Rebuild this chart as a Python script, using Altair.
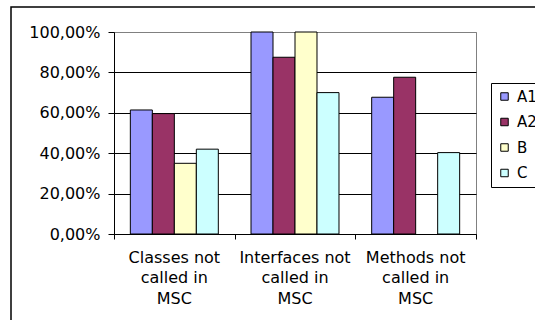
import altair as alt
import pandas as pd

categories = ["Classes not called in MSC", "Interfaces not called in MSC", "Methods not called in MSC"]
series = ["A1", "A2", "B", "C"]
a1 = [0.614, 1.0, 0.677]
a2 = [0.596, 0.875, 0.776]
b = [0.35, 1.0, None]
c = [0.42, 0.70, 0.403]
colors = ["#9999FF", "#993366", "#FFFFCC", "#CCFFFF"]
y_ticks = [0, 0.2, 0.4, 0.6, 0.8, 1.0]

rows = []
for s, vals in zip(series, [a1, a2, b, c]):
    for cat, v in zip(categories, vals):
        if v is not None:
            rows.append({"category": cat, "series": s, "value": v})
df = pd.DataFrame(rows)
cat_df = pd.DataFrame({"category": categories})

FONT = "DejaVu Sans"
FS = 16

x_scale = alt.Scale(paddingInner=0, paddingOuter=0)

bars = alt.Chart(df).mark_bar(stroke="black", strokeWidth=1).encode(
    x=alt.X(
        "category:N",
        sort=categories,
        scale=x_scale,
        axis=alt.Axis(
            title=None,
            orient="bottom",
            labelAngle=0,
            labelExpr="[replace(datum.label, ' called in MSC', ''), 'called in', 'MSC']",
            ticks=False,
            domainColor="black",
            labelFont=FONT,
            labelFontSize=FS,
            labelColor="black",
            labelLineHeight=20.5,
            labelPadding=15,
            grid=False,
        ),
    ),
    xOffset=alt.XOffset("series:N", sort=series, scale=alt.Scale(paddingInner=0, paddingOuter=0.743)),
    y=alt.Y(
        "value:Q",
        scale=alt.Scale(domain=[0, 1], nice=False),
        axis=alt.Axis(
            title=None,
            values=y_ticks,
            labelExpr="replace(format(datum.value, '.2%'), '.', ',')",
            domainColor="black",
            tickColor="black",
            tickSize=6,
            labelFont=FONT,
            labelFontSize=FS,
            labelColor="black",
            labelPadding=8,
            grid=True,
            gridColor={"condition": {"test": "datum.value == 1", "value": "#808080"}, "value": "black"},
            gridOpacity=1,
            gridWidth=1,
        ),
    ),
    color=alt.Color(
        "series:N",
        sort=series,
        scale=alt.Scale(domain=series, range=colors),
        legend=alt.Legend(
            title=None,
            orient="none",
            legendX=377,
            legendY=51,
            strokeColor="black",
            padding=6,
            rowPadding=9.5,
            symbolType="square",
            symbolSize=56,
            symbolStrokeColor="black",
            symbolStrokeWidth=1,
            symbolOpacity=1,
            labelFont=FONT,
            labelFontSize=15,
            labelColor="black",
            labelOffset=5,
        ),
    ),
)

ticks = alt.Chart(cat_df).mark_point(opacity=0).encode(
    x=alt.X(
        "category:N",
        sort=categories,
        scale=x_scale,
        axis=alt.Axis(
            title=None,
            orient="bottom",
            labels=False,
            domain=False,
            tickBand="extent",
            tickColor="black",
            tickSize=5,
            grid=False,
        ),
    ),
    y=alt.value(202),
)

frame = alt.Chart(pd.DataFrame({"a": [0]})).mark_rect(
    fill=None, stroke="black", strokeWidth=1.5
).encode(
    x=alt.value(-103), x2=alt.value(440), y=alt.value(-25), y2=alt.value(300)
)

chart = alt.layer(frame, bars, ticks).resolve_axis(x="independent").properties(
    width=362,
    height=202,
    autosize="none",
    padding={"left": 114, "top": 32, "right": 59, "bottom": 86},
    background="white",
).configure_view(stroke="#808080", strokeWidth=1)

chart.save("out.html", embed_options={"renderer": "svg", "actions": False})
